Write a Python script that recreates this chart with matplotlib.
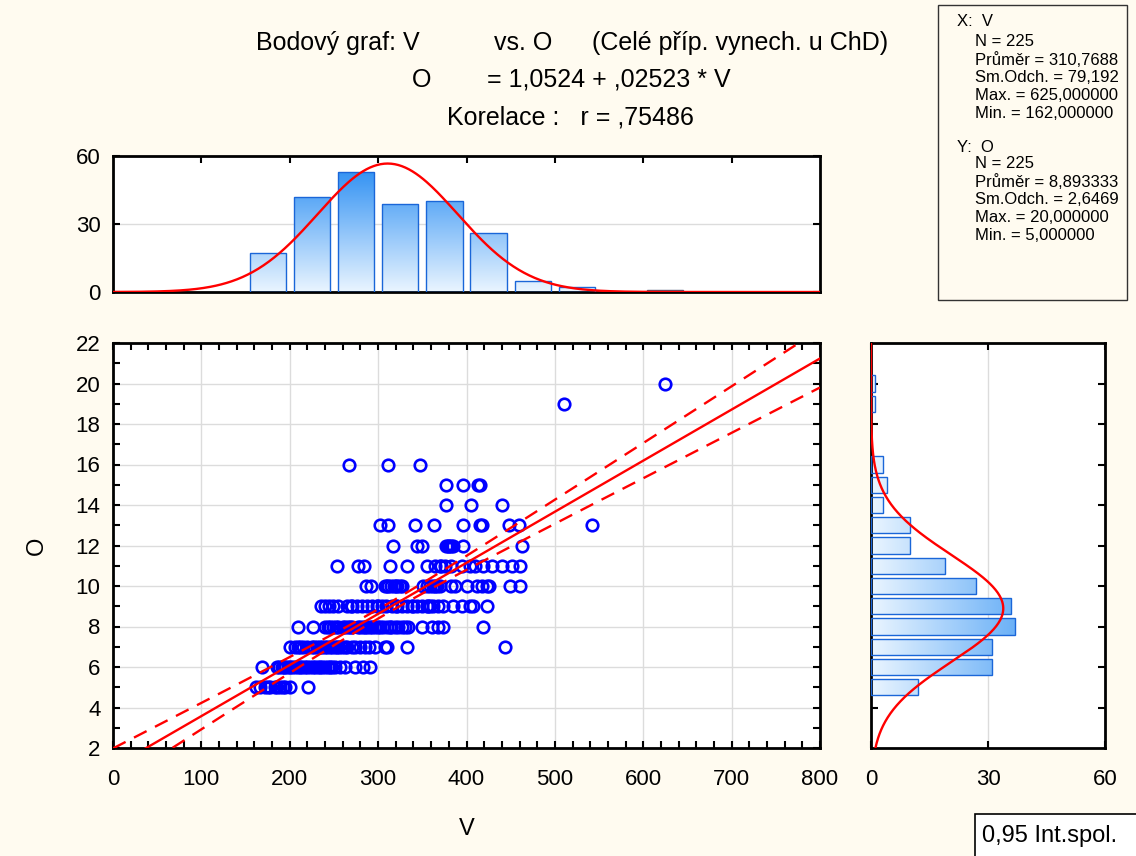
import matplotlib
matplotlib.use('Agg')
import matplotlib.pyplot as plt
import matplotlib.patches as patches
from matplotlib.colors import LinearSegmentedColormap
import numpy as np

plt.rcParams['font.family'] = ['Liberation Sans', 'DejaVu Sans']

# ---- data: V values grouped by O value ----
v_o5 = [162, 166, 172, 175, 178, 183, 186, 189, 192, 195, 200, 221]
v_o6 = [169, 186, 188, 191, 193, 195, 198, 200, 203, 206, 209, 212, 214, 217,
        220, 223, 226, 229, 232, 234, 237, 240, 243, 245, 248, 251, 257, 262,
        274, 283, 291]
v_o7 = [200, 206, 209, 212, 215, 219, 225, 228, 231, 234, 237, 240, 242, 245,
        248, 251, 253, 256, 259, 262, 265, 270, 274, 279, 285, 290, 296, 308,
        310, 333, 443]
v_o8 = [209, 226, 240, 243, 245, 249, 252, 255, 260, 262, 266, 268, 271, 277,
        280, 283, 285, 287, 291, 293, 296, 300, 302, 305, 310, 313, 315, 319,
        322, 327, 330, 334, 350, 361, 368, 373, 419]
v_o9 = [235, 240, 244, 249, 255, 265, 269, 270, 276, 282, 287, 293, 299, 300,
        304, 309, 316, 320, 321, 327, 333, 338, 340, 344, 350, 355, 356, 359,
        362, 368, 373, 385, 395, 404, 407, 423]
v_o10 = [286, 292, 308, 310, 311, 315, 318, 320, 321, 325, 327, 351, 355, 359,
         362, 364, 367, 370, 383, 387, 400, 412, 417, 423, 426, 449, 460]
v_o11 = [253, 277, 284, 314, 333, 355, 364, 370, 371, 376, 383, 395, 404, 410,
         419, 429, 440, 451, 460]
v_o12 = [317, 344, 350, 377, 379, 380, 383, 385, 396, 463]
v_o13 = [302, 311, 342, 363, 396, 415, 417, 448, 459, 542]
v_o14 = [377, 405, 440]
v_o15 = [377, 396, 413, 415]
v_o16 = [267, 311, 347]
v_o19 = [510]
v_o20 = [625]

o_levels = [5, 6, 7, 8, 9, 10, 11, 12, 13, 14, 15, 16, 19, 20]
v_groups = [v_o5, v_o6, v_o7, v_o8, v_o9, v_o10, v_o11, v_o12, v_o13, v_o14,
            v_o15, v_o16, v_o19, v_o20]

# histogram of V (bins of 50)
hist_v_left = [150, 200, 250, 300, 350, 400, 450, 500, 550, 600]
hist_v_counts = [17, 42, 53, 39, 40, 26, 5, 2, 0, 1]
# histogram of O (unit bins)
hist_o_values = [5, 6, 7, 8, 9, 10, 11, 12, 13, 14, 15, 16, 17, 18, 19, 20]
hist_o_counts = [12, 31, 31, 37, 36, 27, 19, 10, 10, 3, 4, 3, 0, 0, 1, 1]

# summary statistics shown in the chart
n_obs = 225
mean_v, sd_v = 310.7688, 79.192
mean_o, sd_o = 8.893333, 2.6469
intercept, slope, r_corr = 1.0524, 0.02523, 0.75486

xs = np.concatenate([np.array(g, float) for g in v_groups])
ys = np.concatenate([np.full(len(g), o, float) for g, o in zip(v_groups, o_levels)])

BG = '#FFFBF0'
BLUE = '#0000FF'
RED = '#FF0000'
GRID = '#DCDCDC'
BAR_EC = '#1A66D8'
TICK_FS = 16
W, H = 1136, 856

def box(l, t, r, b):
    return [l / W, 1 - b / H, (r - l) / W, (b - t) / H]

fig = plt.figure(figsize=(W / 100, H / 100), dpi=100, facecolor=BG)

grad_cmap = LinearSegmentedColormap.from_list('g', ['#EAF5FF', '#1C86F2'])

def style_frame(ax):
    for s in ax.spines.values():
        s.set_linewidth(2)
        s.set_color('black')

# ================= main scatter =================
ax = fig.add_axes(box(113, 343, 820, 748))
ax.set_facecolor('white')
ax.set_xlim(0, 800)
ax.set_ylim(2, 22)
ax.set_xticks(np.arange(0, 801, 100))
ax.set_xticks(np.arange(0, 801, 20), minor=True)
ax.set_yticks(np.arange(2, 23, 2))
ax.set_yticks(np.arange(2, 23, 1), minor=True)
ax.grid(True, which='major', color=GRID, lw=1)
ax.set_axisbelow(True)
ax.tick_params(which='both', direction='in', top=True, right=True,
               length=5, width=1.5, labelsize=TICK_FS)
ax.tick_params(axis='x', pad=15)
ax.tick_params(axis='y', pad=9)
style_frame(ax)

ax.plot(xs, ys, 'o', ms=8.3, mfc='none', mec=BLUE, mew=1.9, zorder=3)

vv = np.linspace(0, 800, 400)
fit = intercept + slope * vv
s_res = sd_o * np.sqrt((1 - r_corr ** 2) * (n_obs - 1) / (n_obs - 2))
sxx = (n_obs - 1) * sd_v ** 2
se = s_res * np.sqrt(1 / n_obs + (vv - mean_v) ** 2 / sxx)
ax.plot(vv, fit, color=RED, lw=1.7, zorder=4)
ax.plot(vv, fit + 1.9706 * se, color=RED, lw=1.7, ls=(0, (6, 4)), zorder=4)
ax.plot(vv, fit - 1.9706 * se, color=RED, lw=1.7, ls=(0, (6, 4)), zorder=4)

ax.set_xlabel('V', fontsize=17, labelpad=20)
ax.set_ylabel('O', fontsize=17, labelpad=20)

# ================= top histogram (V) =================
axt = fig.add_axes(box(113, 156, 820, 292))
axt.set_facecolor('white')
bar_w = 41
for left, cnt in zip(hist_v_left, hist_v_counts):
    if cnt == 0:
        continue
    x0 = left + (50 - bar_w) / 2
    if left == 600:
        rect = patches.Rectangle((x0, 0), bar_w, cnt, fc='#6C7C96', ec='#4A5A78',
                                 lw=1, zorder=3)
        axt.add_patch(rect)
        continue
    rect = patches.Rectangle((x0, 0), bar_w, cnt, fc='none', ec=BAR_EC, lw=1, zorder=3)
    axt.add_patch(rect)
    im = axt.imshow(np.linspace(0, 1, 256).reshape(-1, 1), cmap=grad_cmap,
                    extent=(0, 800, 0, 60), origin='lower', aspect='auto', zorder=2)
    im.set_clip_path(rect)
vt = np.linspace(0, 800, 400)
axt.plot(vt, n_obs * 50 * np.exp(-0.5 * ((vt - mean_v) / sd_v) ** 2) / (sd_v * np.sqrt(2 * np.pi)),
         color=RED, lw=1.7, zorder=4)
axt.set_xlim(0, 800)
axt.set_ylim(0, 60)
axt.set_yticks([0, 30, 60])
axt.set_xticks(np.arange(100, 800, 100))
axt.yaxis.grid(True, color=GRID, lw=1)
axt.set_axisbelow(True)
axt.tick_params(direction='in', top=True, bottom=False, right=True,
                labelbottom=False, length=5, width=1.5, labelsize=TICK_FS, pad=9)
style_frame(axt)

# ================= right histogram (O) =================
axr = fig.add_axes(box(871, 343, 1105, 748))
axr.set_facecolor('white')
for val, cnt in zip(hist_o_values, hist_o_counts):
    if cnt == 0:
        continue
    rect = patches.Rectangle((0, val - 0.4), cnt, 0.8, fc='none', ec=BAR_EC, lw=1, zorder=3)
    axr.add_patch(rect)
    im = axr.imshow(np.linspace(0, 1, 256).reshape(1, -1), cmap=grad_cmap,
                    extent=(0, 60, 2, 22), origin='lower', aspect='auto', zorder=2)
    im.set_clip_path(rect)
oo = np.linspace(2, 22, 400)
axr.plot(n_obs * np.exp(-0.5 * ((oo - mean_o) / sd_o) ** 2) / (sd_o * np.sqrt(2 * np.pi)), oo,
         color=RED, lw=1.7, zorder=4)
axr.set_xlim(0, 60)
axr.set_ylim(2, 22)
axr.set_xticks([0, 30, 60])
axr.set_yticks(np.arange(4, 22, 2))
axr.xaxis.grid(True, color=GRID, lw=1)
axr.set_axisbelow(True)
axr.tick_params(direction='in', top=True, right=True, labelleft=False,
                length=5, width=1.5, labelsize=TICK_FS)
axr.tick_params(axis='x', pad=15)
style_frame(axr)

# ================= titles =================
def ftext(x, y, s, size=18, **kw):
    fig.text(x / W, 1 - y / H, s, fontsize=size, va='center', ha='left', **kw)

ftext(256, 43, 'Bodový graf: V')
ftext(494, 43, 'vs. O')
ftext(592, 43, '(Celé příp. vynech. u ChD)')
ftext(412, 80, 'O')
ftext(487, 80, '= 1,0524 + ,02523 * V')
ftext(447, 118, 'Korelace :   r = ,75486')

# ================= stats box =================
fig.patches.append(patches.Rectangle((938 / W, 1 - 300 / H), 189 / W, 295 / H,
                                     transform=fig.transFigure, fc=BG, ec='#333333', lw=1))
stats_x = ['N = 225', 'Průměr = 310,7688', 'Sm.Odch. = 79,192',
           'Max. = 625,000000', 'Min. = 162,000000']
stats_y = ['N = 225', 'Průměr = 8,893333', 'Sm.Odch. = 2,6469',
           'Max. = 20,000000', 'Min. = 5,000000']
ftext(957, 22, 'X:  V', size=12)
for i, s in enumerate(stats_x):
    ftext(975, 42 + i * 17.8, s, size=12)
ftext(957, 147, 'Y:  O', size=12)
for i, s in enumerate(stats_y):
    ftext(975, 164 + i * 17.8, s, size=12)

# ================= legend box =================
fig.patches.append(patches.Rectangle((975 / W, 1 - 858 / H), 170 / W, 44 / H,
                                     transform=fig.transFigure, fc='white', ec='black', lw=1.2))
ftext(982, 836, '0,95 Int.spol.', size=17)

plt.savefig('out.png', dpi=100, facecolor=BG)
plt.close()
